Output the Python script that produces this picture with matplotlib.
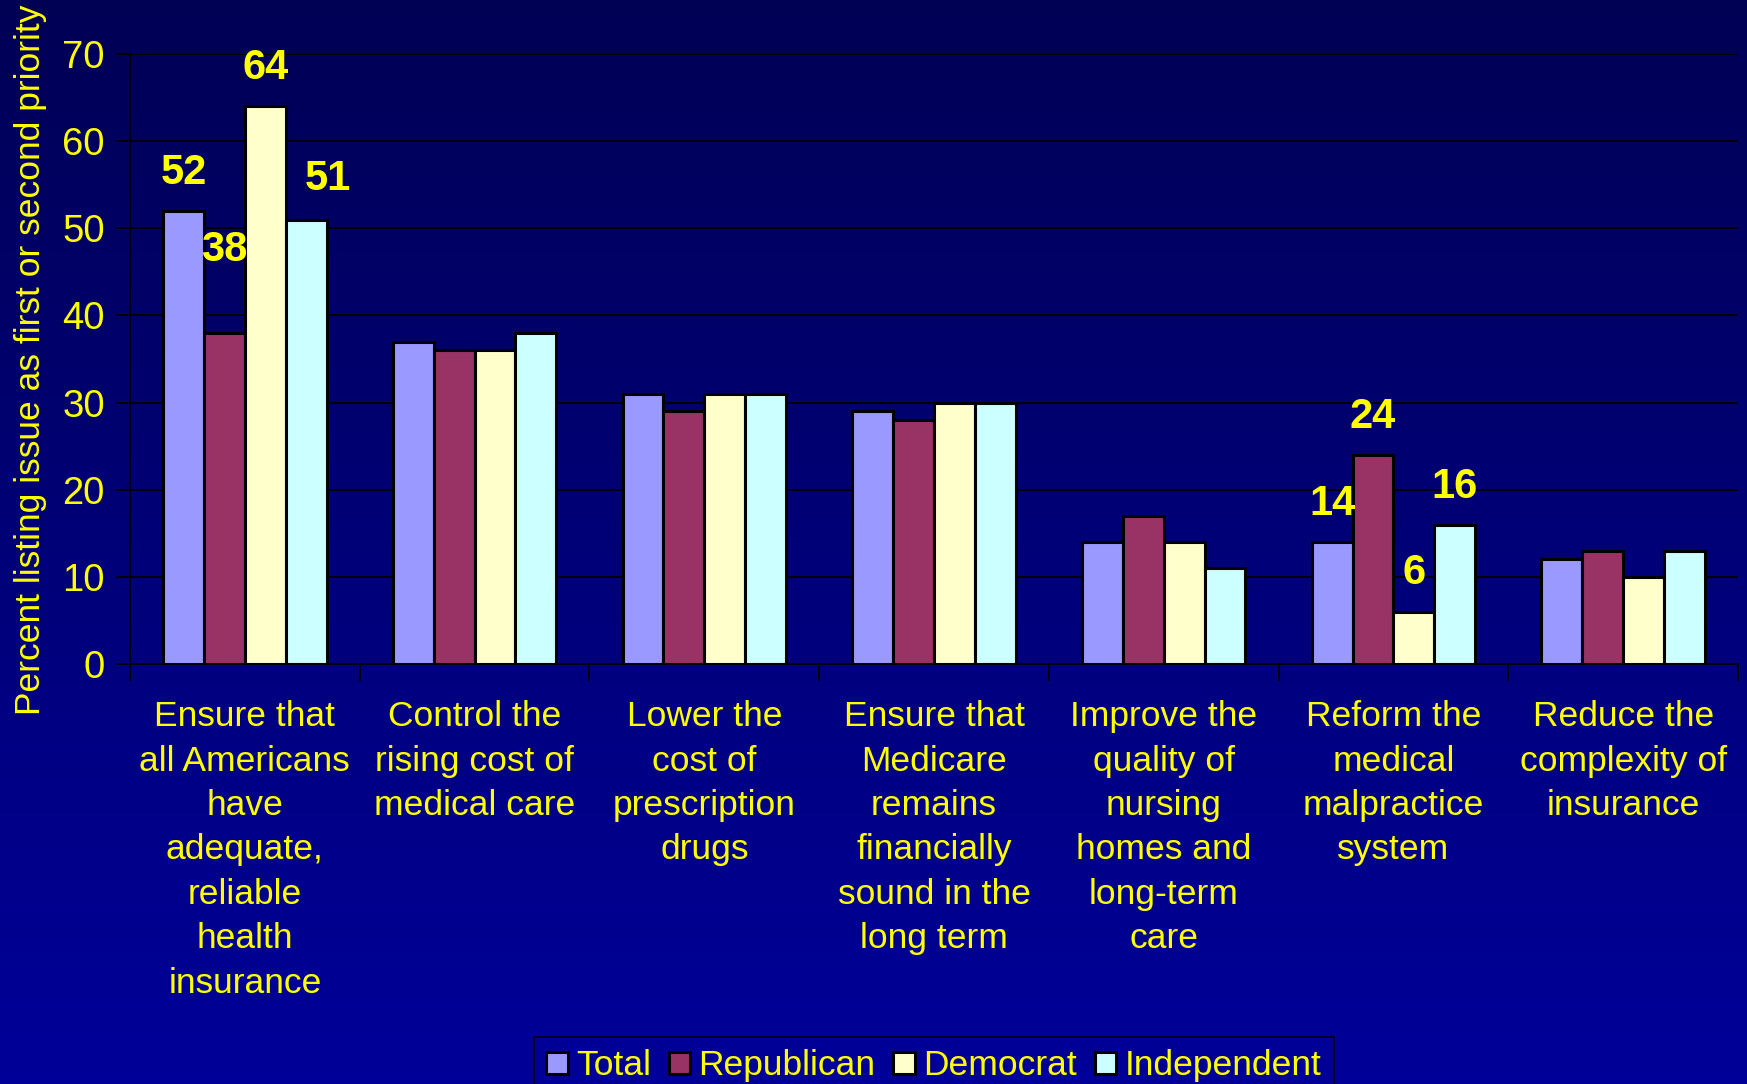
import numpy as np
import matplotlib
matplotlib.use("Agg")
import matplotlib.pyplot as plt
from matplotlib.colors import LinearSegmentedColormap

plt.rcParams['font.family'] = ['Liberation Sans', 'DejaVu Sans']

categories = [
    "Ensure that\nall Americans\nhave\nadequate,\nreliable\nhealth\ninsurance",
    "Control the\nrising cost of\nmedical care",
    "Lower the\ncost of\nprescription\ndrugs",
    "Ensure that\nMedicare\nremains\nfinancially\nsound in the\nlong term",
    "Improve the\nquality of\nnursing\nhomes and\nlong-term\ncare",
    "Reform the\nmedical\nmalpractice\nsystem",
    "Reduce the\ncomplexity of\ninsurance",
]
series_names = ["Total", "Republican", "Democrat", "Independent"]
total = [52, 37, 31, 29, 14, 14, 12]
republican = [38, 36, 29, 28, 17, 24, 13]
democrat = [64, 36, 31, 30, 14, 6, 10]
independent = [51, 38, 31, 30, 11, 16, 13]
colors = ["#9999FF", "#993366", "#FFFFCC", "#CCFFFF"]

# (category, series, shift right, height of label above bar top)
labelled = [(0, 0, 0.0, 4.3), (0, 1, 0.0, 9.5), (0, 2, 0.0, 4.4), (0, 3, 0.095, 4.6),
            (5, 0, 0.0, 4.4), (5, 1, 0.0, 4.3), (5, 2, 0.0, 4.4), (5, 3, 0.0, 4.3)]

yellow = "#FFFF00"
W, H = 1747, 1084
fig = plt.figure(figsize=(W / 100, H / 100), dpi=100)

# background gradient, dark navy at top to brighter blue at bottom
bg = fig.add_axes([0, 0, 1, 1], zorder=-10)
cmap = LinearSegmentedColormap.from_list("bg", ["#000055", "#000099"])
bg.imshow(np.linspace(0, 1, 256).reshape(-1, 1), aspect="auto", cmap=cmap,
          extent=[0, 1, 0, 1])
bg.set_axis_off()

ax = fig.add_axes([130 / W, 1 - 664 / H, (1738 - 130) / W, (664 - 54) / H])
ax.set_facecolor("none")

values = [total, republican, democrat, independent]
x = np.arange(len(categories))
bw = 0.178
for j, (vals, c, name) in enumerate(zip(values, colors, series_names)):
    ax.bar(x + (j - 1.5) * bw, vals, width=bw, color=c, edgecolor="black",
           linewidth=2.2, label=name, zorder=3)

for ci, si, dx, off in labelled:
    v = values[si][ci]
    ax.text(ci + (si - 1.5) * bw + dx, v + off, str(v), ha="center", va="center",
            color=yellow, fontsize=30, fontweight="bold", zorder=4)

ax.set_ylim(0, 70)
ax.set_xlim(-0.5, len(categories) - 0.5)
ax.set_yticks(range(0, 71, 10))
ax.yaxis.grid(True, color="black", linewidth=1.3, zorder=0)
ax.tick_params(axis="y", colors="black", labelcolor=yellow, labelsize=27.5,
               length=10, width=1.3, pad=8)

ax.set_xticks(x)
ax.set_xticklabels(categories, color=yellow, fontsize=25.5, linespacing=1.44)
ax.tick_params(axis="x", which="major", length=0, pad=26)
ax.set_xticks(np.arange(-0.5, len(categories)), minor=True)
ax.tick_params(axis="x", which="minor", length=12, width=1.3, color="black")

for s in ["top", "right"]:
    ax.spines[s].set_visible(False)
for s in ["left", "bottom"]:
    ax.spines[s].set_color("black")
    ax.spines[s].set_linewidth(1.3)

fig.text(31 / W, 1 - 360 / H, "Percent listing issue as first or second priority",
         rotation=90, ha="center", va="center", color=yellow, fontsize=25.5)

leg = fig.legend(loc="upper left", bbox_to_anchor=(534 / W, 1 - 1037 / H),
                 ncol=4, fontsize=25.5, frameon=True, fancybox=False,
                 handlelength=0.6, handleheight=0.6, handletextpad=0.24,
                 columnspacing=0.5, borderpad=0.35, borderaxespad=0)
for t in leg.get_texts():
    t.set_color(yellow)
leg.get_frame().set_facecolor("none")
leg.get_frame().set_edgecolor("black")
leg.get_frame().set_linewidth(1.3)

fig.savefig("out.png", dpi=100)
